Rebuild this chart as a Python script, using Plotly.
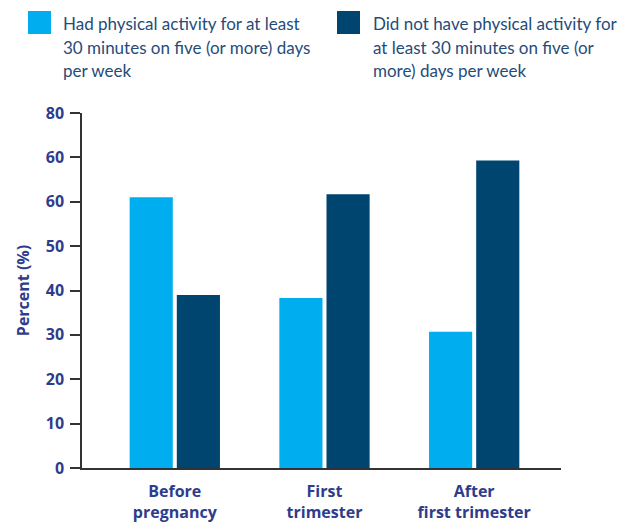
import plotly.graph_objects as go

categories = ["Before pregnancy", "First trimester", "After first trimester"]
category_labels = ["Before<br>pregnancy", "First<br>trimester", "After<br>first trimester"]
had_activity = [61.0, 38.3, 30.7]
no_activity = [39.0, 61.7, 69.3]
series_names = [
    "Had physical activity for at least 30 minutes on five (or more) days per week",
    "Did not have physical activity for at least 30 minutes on five (or more) days per week",
]
legend_lines = [
    ["Had physical activity for at least", "30 minutes on five (or more) days", "per week"],
    ["Did not have physical activity for", "at least 30 minutes on five (or", "more) days per week"],
]
y_tick_values = [0, 10, 20, 30, 40, 50, 60, 70, 80]
y_tick_labels = ["0", "10", "20", "30", "40", "50", "60", "60", "80"]

LIGHT = "#00AEEF"
DARK = "#00456F"
AXIS_TEXT = "#2E3C8C"
LEGEND_TEXT = "#1F4C7A"
LINE = "#333333"

OFF = 8  # page body margin
W, H = 633 - OFF, 526 - OFF
ML, MR, MT, MB = 82 - OFF, 72, 113 - OFF, 58
PW, PH = W - ML - MR, H - MT - MB


def px_x(p):
    return (p - OFF - ML) / PW


def px_y(p):
    return (H - MB - (p - OFF)) / PH


fig = go.Figure()
fig.add_trace(go.Bar(x=categories, y=had_activity, name=series_names[0],
                     marker=dict(color=LIGHT, line=dict(width=0)), showlegend=False))
fig.add_trace(go.Bar(x=categories, y=no_activity, name=series_names[1],
                     marker=dict(color=DARK, line=dict(width=0)), showlegend=False))

# Legend drawn as swatches + text
swatch_left = [28, 337]
text_left = [61, 371]
line_centers = [24, 47.5, 71]
colors = [LIGHT, DARK]
for i in range(2):
    fig.add_shape(type="rect", xref="paper", yref="paper",
                  x0=px_x(swatch_left[i]), x1=px_x(swatch_left[i] + 23),
                  y0=px_y(34), y1=px_y(11), fillcolor=colors[i], line=dict(width=0))
    for j, txt in enumerate(legend_lines[i]):
        fig.add_annotation(xref="paper", yref="paper", x=px_x(text_left[i]), y=px_y(line_centers[j]),
                           xanchor="left", yanchor="middle", text=txt, showarrow=False,
                           font=dict(family="Lato, sans-serif", size=17, color=LEGEND_TEXT))

fig.update_layout(
    width=W, height=H,
    margin=dict(l=ML, r=MR, t=MT, b=MB, pad=0),
    paper_bgcolor="white", plot_bgcolor="white",
    barmode="group", bargap=0.37, bargroupgap=0.085,
    showlegend=False,
    font=dict(family="Open Sans, sans-serif", color=AXIS_TEXT),
)
fig.update_xaxes(
    type="category", range=[-0.62, 2.58], automargin=False,
    tickvals=categories, ticktext=category_labels, ticklabelstandoff=8,
    showline=True, linecolor=LINE, linewidth=1.5,
    ticks="", showgrid=False, zeroline=False,
    tickfont=dict(family="Open Sans, sans-serif", size=16, color=AXIS_TEXT, weight="bold"),
)
fig.update_yaxes(
    range=[0, 80], tickvals=y_tick_values, ticktext=y_tick_labels, automargin=False,
    showline=True, linecolor=LINE, linewidth=1.5,
    ticks="outside", ticklen=10, tickwidth=1.5, tickcolor=LINE, ticklabelstandoff=3,
    showgrid=False, zeroline=False,
    tickfont=dict(family="Open Sans, sans-serif", size=16, color=AXIS_TEXT, weight="bold"),
    title=dict(text="Percent (%)", standoff=12,
               font=dict(family="Open Sans, sans-serif", size=16, color=AXIS_TEXT, weight="bold")),
)

fig.write_html("out.html")
